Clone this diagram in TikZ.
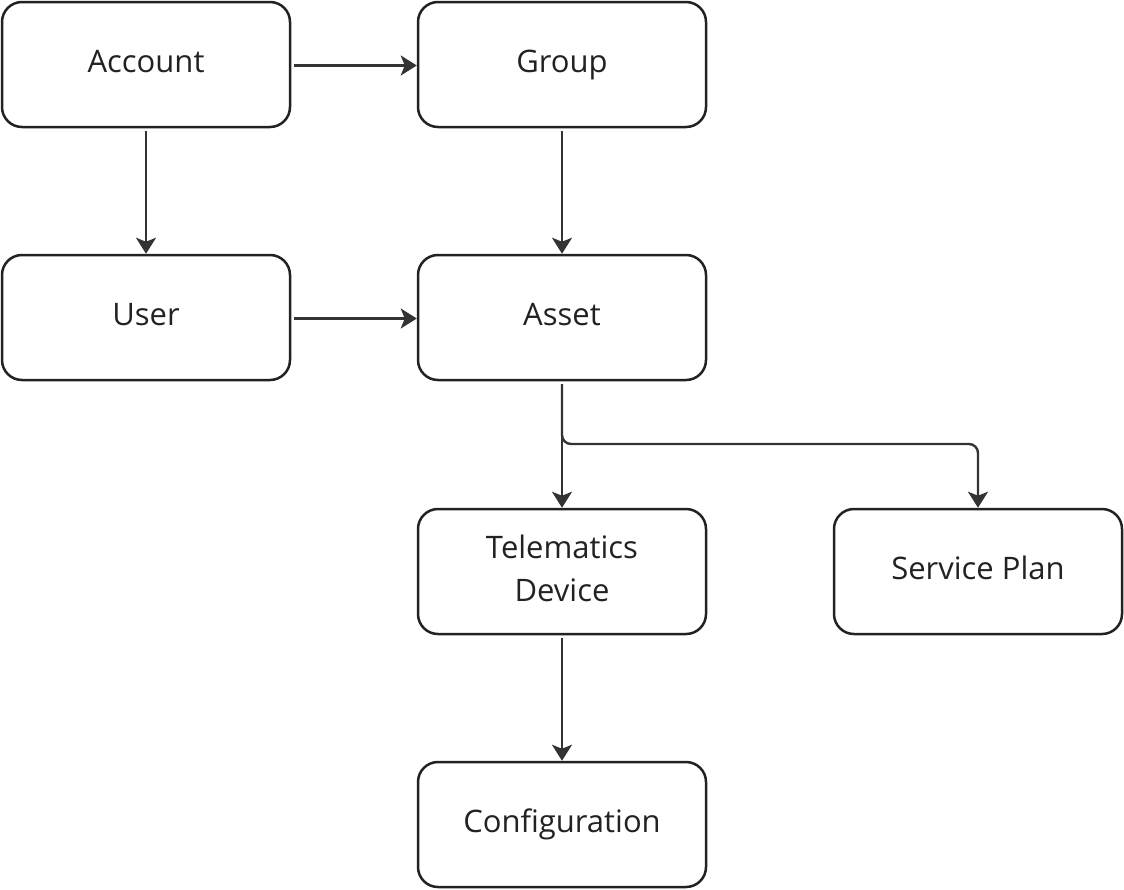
\documentclass[tikz,border=0pt]{standalone}
\usepackage{fontspec}
\setmainfont{Open Sans}
\usetikzlibrary{arrows.meta}
\definecolor{boxline}{HTML}{222222}
\definecolor{arrline}{HTML}{333333}
\begin{document}
\begin{tikzpicture}[x=1pt,y=-1pt,
  ent/.style={draw=boxline,line width=2.5pt,rounded corners=20pt,minimum width=288pt,minimum height=125pt,inner sep=0pt,font=\fontsize{31}{43}\selectfont,text=boxline,text height=24.4pt,text depth=8pt},
  ent2/.style={ent,text height=24.4pt,text depth=50.8pt},
  conn/.style={draw=arrline,line width=2.4pt,-{Stealth[length=16pt,width=20pt,inset=4pt]},shorten <=3pt}]
\useasboundingbox (0,0) rectangle (1124,889);
\node[ent] (account) at (146,64.5) {Account};
\node[ent] (group) at (562,64.5) {Group};
\node[ent] (user) at (146,317.5) {User};
\node[ent] (asset) at (562,317.5) {Asset};
\node[ent2] (tele) at (562,571.5) {\begin{tabular}[t]{@{}c@{}}Telematics\\Device\end{tabular}};
\node[ent] (plan) at (978,571.5) {Service Plan};
\node[ent] (config) at (562,824.5) {Configuration};
\coordinate (bend) at (562,444);
\draw[conn] ([yshift=-1pt]account.east) -- ([yshift=-1pt]group.west);
\draw[conn] (account.south) -- (user.north);
\draw[conn] (group.south) -- (asset.north);
\draw[conn] ([yshift=-1pt]user.east) -- ([yshift=-1pt]asset.west);
\draw[conn] (asset.south) -- (tele.north);
\draw[conn,rounded corners=9pt] (asset.south) -- (bend) -- (bend -| plan.north) -- (plan.north);
\draw[conn] (tele.south) -- (config.north);
\end{tikzpicture}
\end{document}
